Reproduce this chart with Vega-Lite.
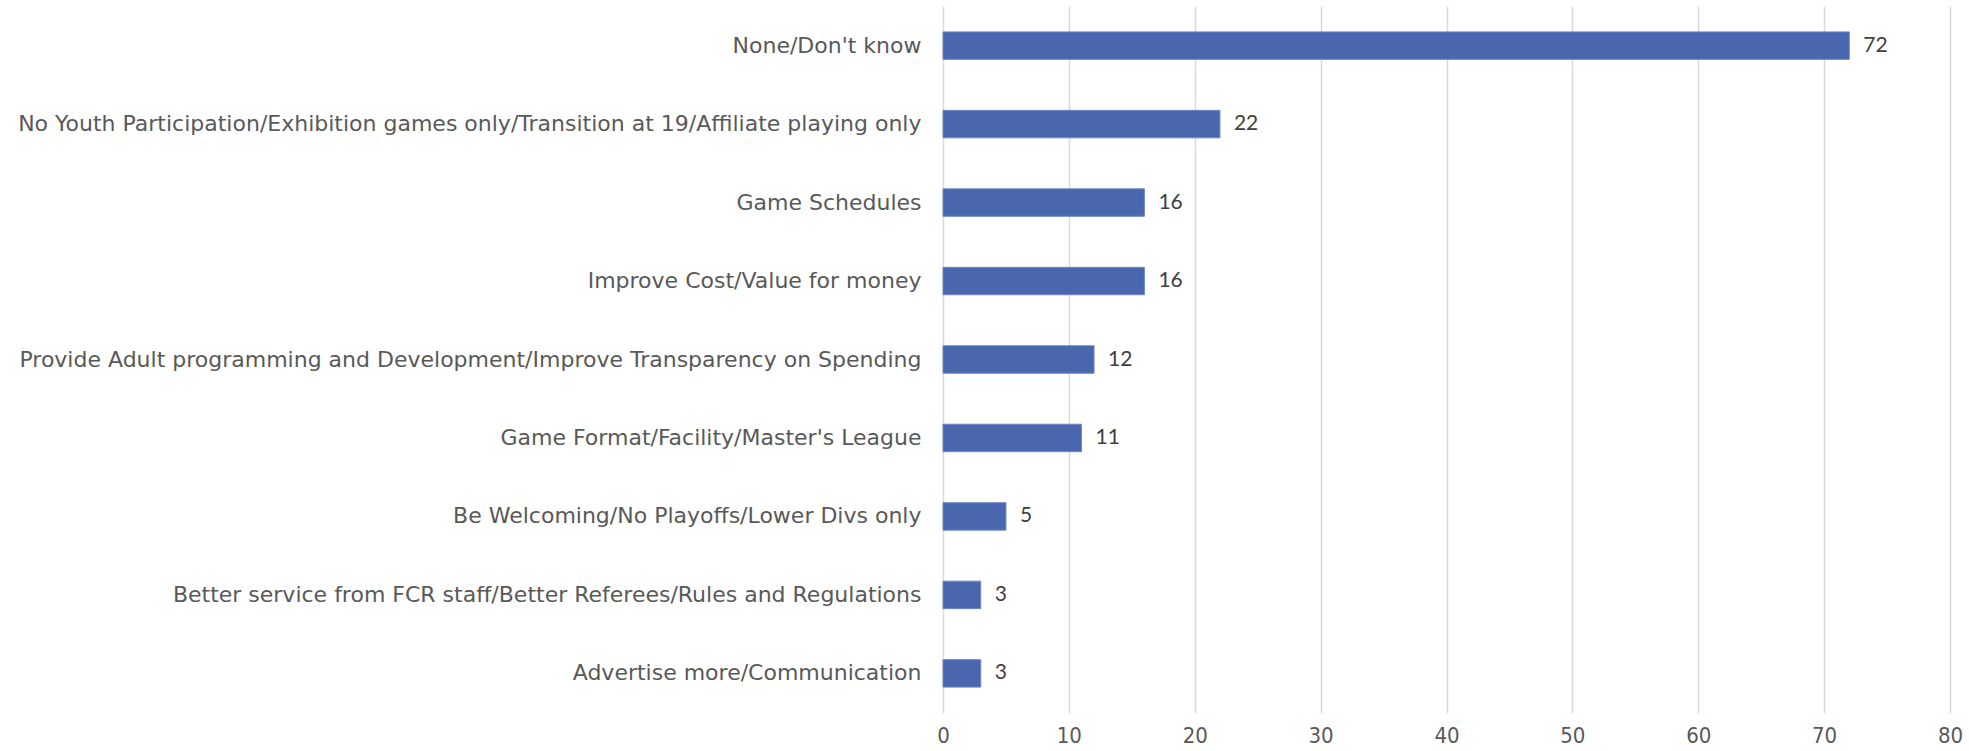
{
  "$schema": "https://vega.github.io/schema/vega-lite/v6.json",
  "width": 1007,
  "height": 707,
  "autosize": "none",
  "padding": {"left": 943, "top": 6, "right": 19, "bottom": 38},
  "background": "white",
  "config": {"view": {"stroke": null}},
  "data": {
    "values": [
      {"category": "None/Don't know", "count": 72},
      {"category": "No Youth Participation/Exhibition games only/Transition at 19/Affiliate playing only", "count": 22},
      {"category": "Game Schedules", "count": 16},
      {"category": "Improve Cost/Value for money", "count": 16},
      {"category": "Provide Adult programming and Development/Improve Transparency on Spending", "count": 12},
      {"category": "Game Format/Facility/Master's League", "count": 11},
      {"category": "Be Welcoming/No Playoffs/Lower Divs only", "count": 5},
      {"category": "Better service from FCR staff/Better Referees/Rules and Regulations", "count": 3},
      {"category": "Advertise more/Communication", "count": 3}
    ]
  },
  "encoding": {
    "y": {
      "field": "category",
      "type": "nominal",
      "sort": null,
      "scale": {"paddingInner": 0.65, "paddingOuter": 0.33},
      "axis": {
        "title": null,
        "domain": false,
        "ticks": false,
        "labelPadding": 22,
        "labelFont": "DejaVu Sans",
        "labelFontSize": 22,
        "labelColor": "#595959",
        "labelLimit": 1000
      }
    },
    "x": {
      "field": "count",
      "type": "quantitative",
      "scale": {"domain": [0, 80], "nice": false},
      "axis": {
        "title": null,
        "values": [0, 10, 20, 30, 40, 50, 60, 70, 80],
        "domain": false,
        "ticks": false,
        "grid": true,
        "gridColor": "#d9d9d9",
        "gridWidth": 1.5,
        "labelPadding": 12,
        "labelFlush": false,
        "labelFont": "DejaVu Sans Condensed",
        "labelFontSize": 22,
        "labelColor": "#595959"
      }
    }
  },
  "layer": [
    {
      "mark": {"type": "bar", "color": "#4966AE", "stroke": "#6f86c2", "strokeWidth": 1}
    },
    {
      "mark": {"type": "text", "align": "left", "baseline": "middle", "dx": 14, "font": "Lato", "fontSize": 21, "color": "#404040"},
      "encoding": {"text": {"field": "count", "type": "quantitative"}}
    }
  ]
}
